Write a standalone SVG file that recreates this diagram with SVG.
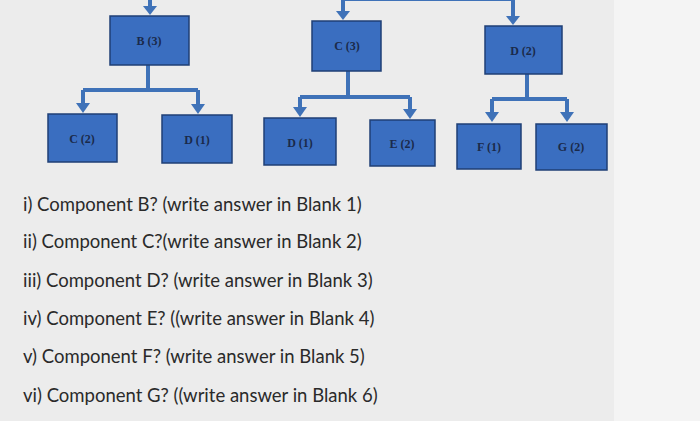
<svg xmlns="http://www.w3.org/2000/svg" width="700" height="421" viewBox="0 0 700 421">
<style>
.n rect{fill:#3a6ec0;stroke:#1f3f75;stroke-width:1.5}
.n text{font-family:"Liberation Serif",serif;font-size:12px;font-weight:bold;fill:#1a2a4a;text-anchor:middle}
.c path{fill:none;stroke:#3f72b8;stroke-width:4}
.c polygon{fill:#3f72b8}
.q{font-family:Lato,"Liberation Sans",sans-serif;font-size:18.5px;fill:#2a2a2a}
</style>
<rect width="700" height="421" fill="#ececec"/>
<rect x="614" y="0" width="86" height="421" fill="#f4f4f4"/>
<g class="c">
<path d="M150,0 V8 M343,-1 H513 M343,-1 V12 M513,-1 V17"/>
<path d="M148,65 V90 M83,90 H198 M83,90 V104 M198,90 V105"/>
<path d="M348,71 V97 M300,97 H410 M300,97 V108 M410,97 V110"/>
<path d="M527,74 V99 M492,99 H567 M492,99 V113 M567,99 V113"/>
<polygon points="143,6 157,6 150,15"/>
<polygon points="336,11 350,11 343,20"/>
<polygon points="506,16 520,16 513,25"/>
<polygon points="76,103 90,103 83,113"/>
<polygon points="191,104 205,104 198,114"/>
<polygon points="293,107 307,107 300,117"/>
<polygon points="403,109 417,109 410,119"/>
<polygon points="485,112 499,112 492,122"/>
<polygon points="560,112 574,112 567,122"/>
</g>
<g id="B3" class="n"><rect x="110" y="16" width="79" height="49"/><text x="149" y="45">B (3)</text></g>
<g id="C3" class="n"><rect x="312" y="21" width="69" height="50"/><text x="347" y="50">C (3)</text></g>
<g id="D2" class="n"><rect x="485" y="26" width="77" height="48"/><text x="523" y="55">D (2)</text></g>
<g id="C2" class="n"><rect x="48" y="114" width="69" height="48"/><text x="82" y="143">C (2)</text></g>
<g id="D1a" class="n"><rect x="162" y="115" width="70" height="48"/><text x="197" y="144">D (1)</text></g>
<g id="D1b" class="n"><rect x="264" y="118" width="72" height="47"/><text x="300" y="147">D (1)</text></g>
<g id="E2" class="n"><rect x="370" y="120" width="65" height="46"/><text x="402" y="148">E (2)</text></g>
<g id="F1" class="n"><rect x="457" y="124" width="64" height="45"/><text x="489" y="151">F (1)</text></g>
<g id="G2" class="n"><rect x="536" y="124" width="71" height="46"/><text x="571" y="151">G (2)</text></g>
<text class="q" x="23" y="211">i) Component B? (write answer in Blank 1)</text>
<text class="q" x="23" y="248">ii) Component C?(write answer in Blank 2)</text>
<text class="q" x="23" y="287">iii) Component D? (write answer in Blank 3)</text>
<text class="q" x="23" y="325">iv) Component E? ((write answer in Blank 4)</text>
<text class="q" x="23" y="363">v) Component F? (write answer in Blank 5)</text>
<text class="q" x="23" y="402">vi) Component G? ((write answer in Blank 6)</text>
</svg>
